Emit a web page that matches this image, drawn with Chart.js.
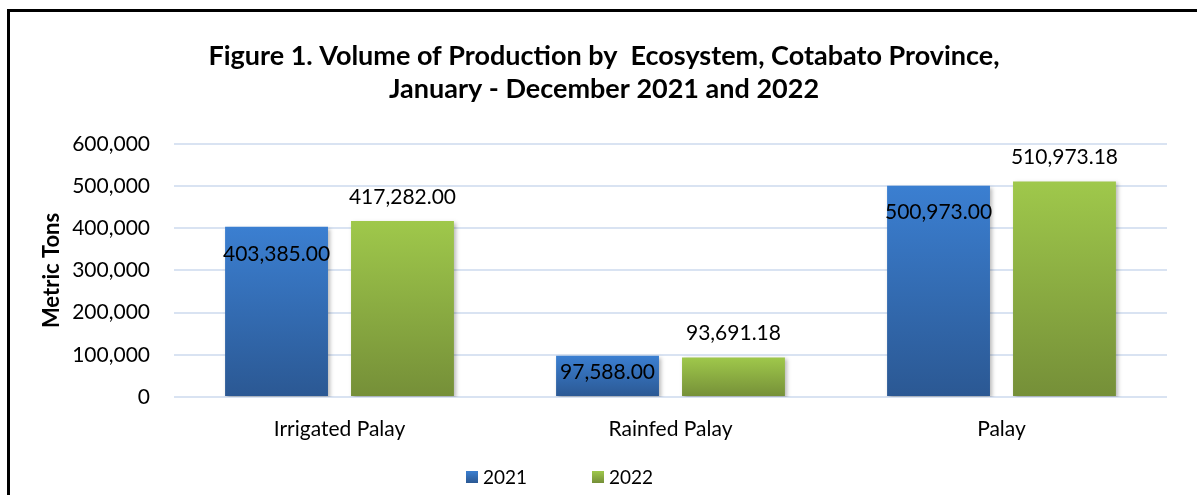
<!DOCTYPE html>
<html>
<head>
<meta charset="utf-8">
<script src="https://cdn.jsdelivr.net/npm/chart.js@4/dist/chart.umd.min.js"></script>
<style>
  html, body { margin: 0; padding: 0; background: #fff; overflow: hidden; }
  #frame { position: absolute; left: 7px; top: 9px; width: 1400px; height: 800px;
           border-left: 3px solid #000; border-top: 3px solid #000; box-sizing: border-box; }
  #wrap { position: absolute; left: 0; top: 0; width: 1197px; height: 495px; }
</style>
</head>
<body>
<div id="frame"></div>
<div id="wrap"><canvas id="c" width="1197" height="495"></canvas></div>
<script>
const categories = ['Irrigated Palay', 'Rainfed Palay', 'Palay'];
const seriesNames = ['2021', '2022'];
const values2021 = [403385.00, 97588.00, 500973.00];
const values2022 = [417282.00, 93691.18, 510973.18];
const yTicks = [0, 100000, 200000, 300000, 400000, 500000, 600000];
const titleLines = ['Figure 1. Volume of Production by  Ecosystem, Cotabato Province,', 'January - December 2021 and 2022'];
const yAxisTitle = 'Metric Tons';

const palettes = [
  { top: '#3b7fd1', bottom: '#2b5893', solid: '#3570bd' },
  { top: '#9fc84b', bottom: '#758f38', solid: '#8cb043' }
];

function barGradient(ctx, dsIndex) {
  const chart = ctx.chart;
  const p = palettes[dsIndex];
  if (!chart.chartArea || !chart.scales.y) return p.solid;
  const y = chart.scales.y;
  const v = ctx.raw;
  if (v == null) return p.solid;
  const top = y.getPixelForValue(v);
  const base = y.getPixelForValue(0);
  const g = chart.ctx.createLinearGradient(0, top, 0, base);
  g.addColorStop(0, p.top);
  g.addColorStop(1, p.bottom);
  return g;
}

const fmt = v => v.toLocaleString('en-US', { minimumFractionDigits: 2, maximumFractionDigits: 2 });

const decor = {
  id: 'decor',
  beforeDatasetsDraw(chart) {
    const ctx = chart.ctx;
    ctx.save();
    ctx.shadowColor = 'rgba(0,0,0,0.28)';
    ctx.shadowBlur = 4;
    ctx.shadowOffsetX = 2;
    ctx.shadowOffsetY = 2;
  },
  afterDatasetsDraw(chart) {
    const ctx = chart.ctx;
    ctx.restore();
    ctx.save();
    ctx.font = '21px Lato';
    ctx.fillStyle = '#000';
    ctx.textAlign = 'center';
    ctx.textBaseline = 'middle';
    chart.data.datasets.forEach((ds, di) => {
      const meta = chart.getDatasetMeta(di);
      meta.data.forEach((bar, i) => {
        const h = bar.base - bar.y;
        let y;
        if (di === 0) y = bar.y + Math.min(27, h * 0.4);
        else y = bar.y - 24;
        ctx.fillText(fmt(ds.data[i]), bar.x, y);
      });
    });
    ctx.restore();
  },
  afterDraw(chart) {
    const ctx = chart.ctx;
    ctx.save();
    ctx.font = '19px Lato';
    ctx.textBaseline = 'middle';
    ctx.textAlign = 'left';
    let x = 466;
    const yc = 477;
    chart.data.datasets.forEach((ds, di) => {
      const p = palettes[di];
      const g = ctx.createLinearGradient(0, yc - 6, 0, yc + 6);
      g.addColorStop(0, p.top);
      g.addColorStop(1, p.bottom);
      ctx.fillStyle = g;
      ctx.fillRect(x, yc - 6, 12, 12);
      ctx.fillStyle = '#000';
      ctx.fillText(ds.label, x + 17, yc + 1);
      x += 126;
    });
    ctx.restore();
  }
};

new Chart(document.getElementById('c'), {
  type: 'bar',
  data: {
    labels: categories,
    datasets: [
      { label: seriesNames[0], data: values2021, backgroundColor: c => barGradient(c, 0) },
      { label: seriesNames[1], data: values2022, backgroundColor: c => barGradient(c, 1) }
    ]
  },
  options: {
    responsive: false,
    animation: false,
    devicePixelRatio: 1,
    categoryPercentage: 0.761,
    barPercentage: 0.817,
    layout: { padding: { left: 41, right: 30, top: 10, bottom: 38 } },
    plugins: {
      legend: { display: false },
      tooltip: { enabled: false },
      title: {
        display: true,
        text: titleLines,
        color: '#000',
        font: { family: 'Lato', size: 27, weight: 'bold', lineHeight: 1.22 },
        padding: { top: 30, bottom: 38 }
      }
    },
    scales: {
      x: {
        grid: { display: false, drawTicks: false },
        border: { display: false },
        ticks: { color: '#000', font: { family: 'Lato', size: 21 }, padding: 20 },
        afterFit: s => { s.height = 60; }
      },
      y: {
        min: 0, max: 600000,
        afterBuildTicks: s => { s.ticks = yTicks.map(v => ({ value: v })); },
        grid: { color: '#d9e3f2', lineWidth: 2, drawTicks: false },
        border: { display: false },
        ticks: {
          color: '#000', font: { family: 'Lato', size: 21 }, padding: 24,
          callback: v => v.toLocaleString('en-US')
        },
        title: {
          display: true, text: yAxisTitle, color: '#000',
          font: { family: 'Lato', size: 22, weight: 'bold', lineHeight: 1.0 },
          padding: { top: 0, bottom: 0 }
        },
        afterFit: s => { s.width = 133; }
      }
    }
  },
  plugins: [decor]
});
</script>
</body>
</html>
